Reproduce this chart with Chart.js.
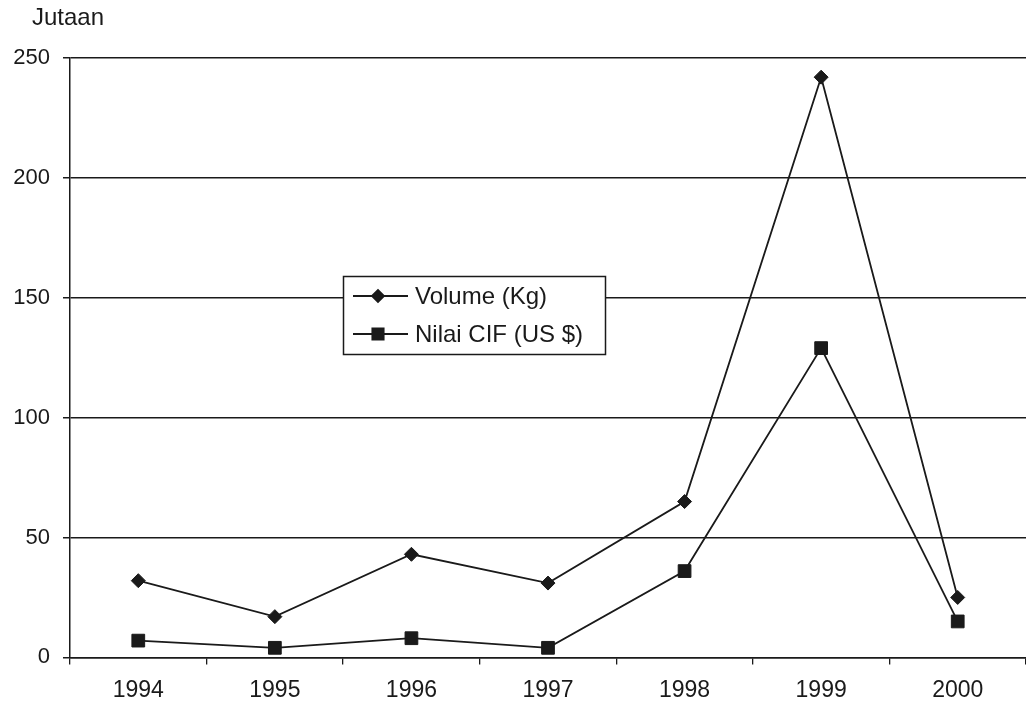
<!DOCTYPE html>
<html>
<head>
<meta charset="utf-8">
<script src="https://cdn.jsdelivr.net/npm/chart.js@4/dist/chart.umd.min.js"></script>
<style>
    html, body { margin: 0; padding: 0; background: #fff; overflow: hidden; }
    #wrap { width: 1036px; height: 713px; position: relative; }
</style>
</head>
<body>
<div id="wrap"><canvas id="chart"></canvas></div>
<script>
// Chart data
const years = ['1994', '1995', '1996', '1997', '1998', '1999', '2000'];
const volumeKg = [32, 17, 43, 31, 65, 242, 25];
const nilaiCif = [7, 4, 8, 4, 36, 129, 15];
const yTicks = [0, 50, 100, 150, 200, 250];

const seriesNames = ['Volume (Kg)', 'Nilai CIF (US $)'];
const unitLabel = 'Jutaan';

const FONT = '"Liberation Sans", Arial, sans-serif';
const INK = '#1a1a1a';

// Draws the "Jutaan" caption and the boxed legend inside the plot
const overlayPlugin = {
    id: 'overlay',
    afterDraw(chart) {
        const ctx = chart.ctx;
        ctx.save();
        ctx.fillStyle = INK;
        ctx.font = '24px ' + FONT;
        ctx.textBaseline = 'middle';
        ctx.textAlign = 'left';
        ctx.fillText(unitLabel, 32, 18);

        // legend box
        const bx = 343, by = 276, bw = 262, bh = 78;
        ctx.fillStyle = '#fff';
        ctx.fillRect(bx, by, bw, bh);
        ctx.strokeStyle = INK;
        ctx.lineWidth = 1.5;
        ctx.strokeRect(bx + 0.5, by + 0.5, bw, bh);

        chart.data.datasets.forEach((ds, i) => {
            const y = by + 20 + i * 38;
            ctx.strokeStyle = INK;
            ctx.lineWidth = 1.8;
            ctx.beginPath();
            ctx.moveTo(bx + 10, y);
            ctx.lineTo(bx + 65, y);
            ctx.stroke();
            Chart.helpers.drawPoint(ctx, {
                pointStyle: ds.pointStyle,
                radius: ds.pointRadius - 1,
                borderWidth: 1,
            }, bx + 35, y);
            ctx.fillStyle = INK;
            ctx.fill();
            ctx.fillStyle = INK;
            ctx.font = '24px ' + FONT;
            ctx.fillText(ds.label, bx + 72, y + 1);
        });
        ctx.restore();
    }
};

new Chart(document.getElementById('chart'), {
    type: 'line',
    data: {
        labels: years,
        datasets: [{
            label: seriesNames[0],
            data: volumeKg,
            borderColor: INK,
            backgroundColor: INK,
            borderWidth: 1.8,
            pointStyle: 'rectRot',
            pointRadius: 7,
            pointBorderWidth: 1,
            tension: 0,
        }, {
            label: seriesNames[1],
            data: nilaiCif,
            borderColor: INK,
            backgroundColor: INK,
            borderWidth: 1.8,
            pointStyle: 'rect',
            pointRadius: 9,
            pointBorderWidth: 1,
            tension: 0,
        }],
    },
    options: {
        responsive: true,
        maintainAspectRatio: false,
        animation: false,
        layout: {
            padding: { top: 58, right: 0, bottom: -3, left: 0 },
        },
        plugins: {
            legend: { display: false },
            tooltip: { enabled: false },
        },
        scales: {
            x: {
                offset: true,
                grid: {
                    offset: true,
                    drawOnChartArea: false,
                    tickLength: 7,
                    color: INK,
                    lineWidth: 1.3,
                },
                border: { display: true, color: INK, width: 1.5 },
                ticks: {
                    color: INK,
                    font: { family: FONT, size: 23 },
                    padding: 12,
                    maxRotation: 0,
                },
            },
            y: {
                min: 0,
                max: 250,
                afterFit(scale) { scale.width = 70; },
                afterBuildTicks(scale) {
                    scale.ticks = yTicks.map(v => ({ value: v }));
                },
                grid: {
                    color: INK,
                    lineWidth: 1.5,
                    tickLength: 7,
                },
                border: { display: true, color: INK, width: 1.5 },
                ticks: {
                    color: INK,
                    font: { family: FONT, size: 22 },
                    padding: 13,
                },
            },
        },
    },
    plugins: [overlayPlugin],
});
</script>
</body>
</html>
